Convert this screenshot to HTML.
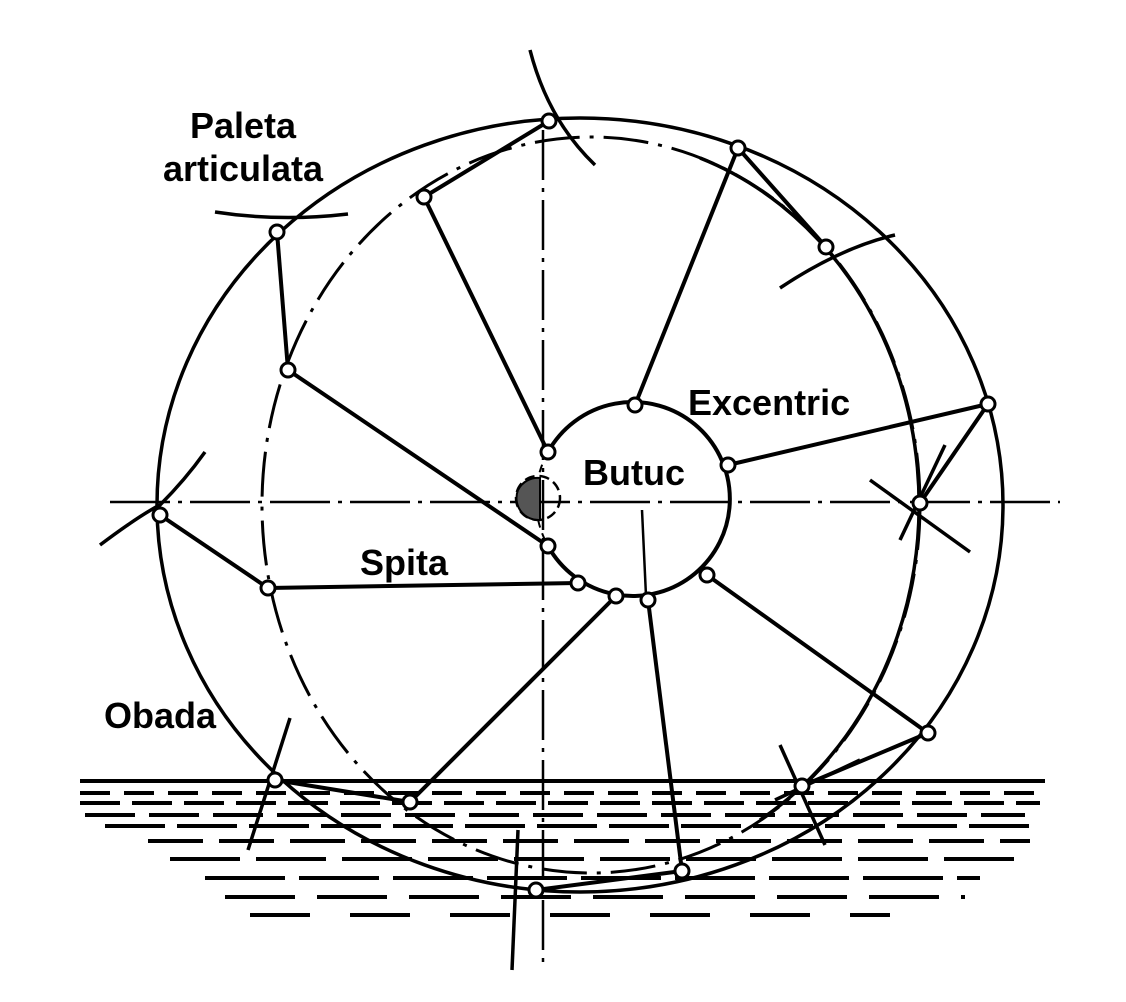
<!DOCTYPE html>
<html><head><meta charset="utf-8"><style>
html,body{margin:0;padding:0;background:#fff;}
svg{display:block}
text{font-family:"Liberation Sans",sans-serif;font-weight:bold;font-size:36px;fill:#000}
</style></head><body>
<svg width="1126" height="1002" viewBox="0 0 1126 1002">
<g fill="none" stroke="#000" stroke-width="3.5">
<ellipse cx="580" cy="505" rx="423" ry="387"/>
<ellipse cx="591" cy="505" rx="329" ry="368" stroke-width="3" stroke-dasharray="45 10 4 10"/>
<path d="M700 158 A329 368 0 0 1 760 820" stroke-width="3.5"/>
<line x1="110" y1="502" x2="1060" y2="502" stroke-width="2.5" stroke-dasharray="60 8 4 8"/>
<line x1="543" y1="130" x2="543" y2="970" stroke-width="2.5" stroke-dasharray="50 8 4 8"/>
<path d="M548 452 A97 97 0 1 1 548 546" stroke-width="4"/>
<path d="M548 452 A97 97 0 0 0 548 546" stroke-width="2" stroke-dasharray="8 6"/>
<circle cx="538" cy="498" r="22" stroke-width="2.5" stroke-dasharray="10 5"/>
<path d="M518 490 A22 22 0 0 0 540 520 L540 478 A22 22 0 0 0 518 490Z" fill="#555" stroke-width="2"/>
<line x1="642" y1="510" x2="646" y2="596" stroke-width="2.5"/>
<g stroke-width="4">
<line x1="424" y1="197" x2="548" y2="452"/>
<line x1="738" y1="148" x2="635" y2="405"/>
<line x1="988" y1="404" x2="728" y2="465"/>
<line x1="928" y1="733" x2="707" y2="575"/>
<line x1="682" y1="871" x2="648" y2="600"/>
<line x1="410" y1="802" x2="616" y2="596"/>
<line x1="268" y1="588" x2="578" y2="583"/>
<line x1="288" y1="370" x2="548" y2="546"/>
</g>
<g stroke-width="4">
<line x1="277" y1="232" x2="288" y2="370"/>
<line x1="160" y1="515" x2="268" y2="588"/>
<line x1="549" y1="121" x2="424" y2="197"/>
<line x1="738" y1="148" x2="826" y2="247"/>
<line x1="988" y1="404" x2="920" y2="503"/>
<line x1="928" y1="733" x2="802" y2="786"/>
<line x1="275" y1="780" x2="410" y2="802"/>
<line x1="536" y1="890" x2="682" y2="871"/>
</g>
<g stroke-width="3.5">
<path d="M215 212 Q280 222 348 214"/>
<path d="M100 545 Q140 515 160 505 Q185 480 205 452"/>
<path d="M530 50 Q548 120 595 165"/>
<path d="M780 288 Q840 248 895 235"/>
<path d="M870 480 L970 552"/>
<path d="M945 445 L900 540"/>
<path d="M780 745 L825 845"/>
<path d="M775 800 L860 760"/>
<path d="M290 718 L248 850"/>
<path d="M518 830 L512 970"/>
</g>
<g stroke-width="4">
<line x1="80" y1="781" x2="1045" y2="781"/>
<line x1="80" y1="793" x2="1045" y2="793" stroke-dasharray="30 14"/>
<line x1="80" y1="803" x2="1040" y2="803" stroke-dasharray="40 12"/>
<line x1="85" y1="815" x2="1025" y2="815" stroke-dasharray="50 14"/>
<line x1="105" y1="826" x2="1030" y2="826" stroke-dasharray="60 12"/>
<line x1="148" y1="841" x2="1030" y2="841" stroke-dasharray="55 16"/>
<line x1="170" y1="859" x2="1018" y2="859" stroke-dasharray="70 16"/>
<line x1="205" y1="878" x2="980" y2="878" stroke-dasharray="80 14"/>
<line x1="225" y1="897" x2="965" y2="897" stroke-dasharray="70 22"/>
<line x1="250" y1="915" x2="890" y2="915" stroke-dasharray="60 40"/>
</g>
</g>
<g fill="#fff" stroke="#000" stroke-width="3">
<circle cx="549" cy="121" r="7"/><circle cx="738" cy="148" r="7"/><circle cx="988" cy="404" r="7"/>
<circle cx="928" cy="733" r="7"/><circle cx="682" cy="871" r="7"/><circle cx="536" cy="890" r="7"/>
<circle cx="410" cy="802" r="7"/><circle cx="275" cy="780" r="7"/><circle cx="160" cy="515" r="7"/>
<circle cx="277" cy="232" r="7"/>
<circle cx="424" cy="197" r="7"/><circle cx="826" cy="247" r="7"/><circle cx="920" cy="503" r="7"/>
<circle cx="802" cy="786" r="7"/><circle cx="268" cy="588" r="7"/><circle cx="288" cy="370" r="7"/>
<circle cx="548" cy="452" r="7"/><circle cx="635" cy="405" r="7"/><circle cx="728" cy="465" r="7"/>
<circle cx="707" cy="575" r="7"/><circle cx="648" cy="600" r="7"/><circle cx="616" cy="596" r="7"/>
<circle cx="578" cy="583" r="7"/><circle cx="548" cy="546" r="7"/>
</g>
<text x="243" y="138" text-anchor="middle">Paleta</text>
<text x="243" y="181" text-anchor="middle">articulata</text>
<text x="688" y="415">Excentric</text>
<text x="583" y="485">Butuc</text>
<text x="360" y="575">Spita</text>
<text x="104" y="728">Obada</text>
</svg>
</body></html>
